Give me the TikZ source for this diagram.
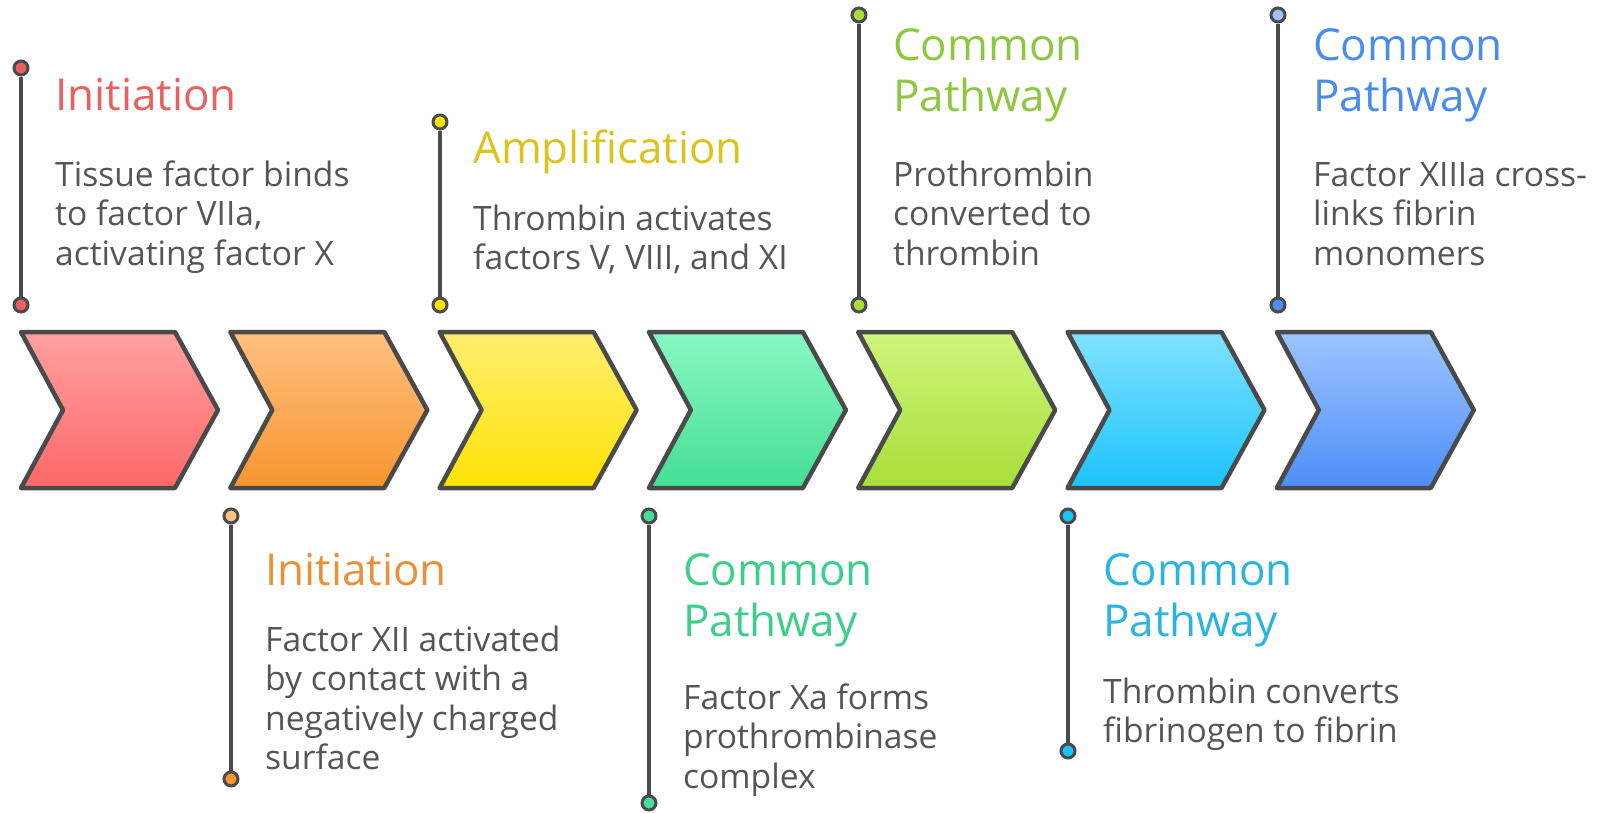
\documentclass[tikz,border=0pt]{standalone}
\usepackage{fontspec}
\setmainfont{Open Sans}
\definecolor{edge}{HTML}{4A4A4A}
\definecolor{bodygray}{HTML}{555555}
\definecolor{t1}{HTML}{EA6060}\definecolor{a1}{HTML}{FFA0A0}\definecolor{b1}{HTML}{FE6868}
\definecolor{t2}{HTML}{E8903A}\definecolor{a2}{HTML}{FFC080}\definecolor{b2}{HTML}{F7952E}
\definecolor{t3}{HTML}{DCC31C}\definecolor{a3}{HTML}{FFEE70}\definecolor{b3}{HTML}{FFE205}
\definecolor{t4}{HTML}{3DCF8A}\definecolor{a4}{HTML}{88F8C4}\definecolor{b4}{HTML}{45DE95}
\definecolor{t5}{HTML}{8DC63F}\definecolor{a5}{HTML}{D0F57A}\definecolor{b5}{HTML}{A7DE3A}
\definecolor{t6}{HTML}{29B5E0}\definecolor{a6}{HTML}{80E2FF}\definecolor{b6}{HTML}{1BC3FB}
\definecolor{t7}{HTML}{4A8CEB}\definecolor{a7}{HTML}{9DC4FF}\definecolor{b7}{HTML}{4D8EF8}
\newcommand\stk[2]{\vtop{\baselineskip=#1pt\lineskiplimit=-1000pt\lineskip=0pt #2}}
\tikzset{
  chev/.style={draw=edge, line width=4.5pt, line join=round},
  stem/.style={draw=edge, line width=3.5pt},
  dot/.style={circle, draw=edge, line width=3pt, minimum size=14pt, inner sep=0pt},
  ttl/.style={anchor=base west, inner sep=0pt, font=\fontsize{44}{51}\selectfont},
  body/.style={anchor=base west, inner sep=0pt, text=bodygray, font=\fontsize{33.6}{39.5}\selectfont},
}
\begin{document}
\begin{tikzpicture}[x=1pt,y=-1pt]
\useasboundingbox (0,0) rectangle (1598,812);
% chevrons
\foreach \i in {1,...,7}{
  \pgfmathsetmacro\L{21+209.3*(\i-1)}
  \path[chev, top color=a\i, bottom color=b\i] (\L,332) -- ++(154,0) -- ++(43,78) -- ++(-43,78) -- ++(-154,0) -- ++(42,-78) -- cycle;
}
% stems and dots
\node[dot, fill=t1] (d1a) at (21,68) {};   \node[dot, fill=t1] (d1b) at (21,305) {};
\node[dot, fill=a2] (d2a) at (231,516) {};  \node[dot, fill=b2] (d2b) at (231,779) {};
\node[dot, fill=b3] (d3a) at (440,122) {};  \node[dot, fill=b3] (d3b) at (440,305) {};
\node[dot, fill=b4] (d4a) at (649,516) {};  \node[dot, fill=b4] (d4b) at (649,803) {};
\node[dot, fill=b5] (d5a) at (859,15) {};   \node[dot, fill=b5] (d5b) at (859,305) {};
\node[dot, fill=b6] (d6a) at (1068,516) {}; \node[dot, fill=b6] (d6b) at (1068,751) {};
\node[dot, fill=a7] (d7a) at (1278,15) {};  \node[dot, fill=b7] (d7b) at (1278,305) {};
\foreach \k in {1,...,7}{ \draw[stem] (d\k a) -- (d\k b); }
% texts
\node[ttl, text=t1] (h1) at (55,110) {Initiation};
\node[body] (p1) at (55,186) {\stk{39.5}{\hbox{Tissue factor binds}\hbox{to factor VIIa,}\hbox{activating factor X}}};
\node[ttl, text=t2] (h2) at (265,585) {Initiation};
\node[body] (p2) at (265,651) {\stk{39.5}{\hbox{Factor XII activated}\hbox{by contact with a}\hbox{negatively charged}\hbox{surface}}};
\node[ttl, text=t3] (h3) at (473,163) {Amplification};
\node[body] (p3) at (473,230) {\stk{39.5}{\hbox{Thrombin activates}\hbox{factors V, VIII, and XI}}};
\node[ttl, text=t4] (h4) at (683,585) {\stk{51}{\hbox{Common}\hbox{Pathway}}};
\node[body] (p4) at (683,709) {\stk{39.5}{\hbox{Factor Xa forms}\hbox{prothrombinase}\hbox{complex}}};
\node[ttl, text=t5] (h5) at (893,60) {\stk{51}{\hbox{Common}\hbox{Pathway}}};
\node[body] (p5) at (893,186) {\stk{39.5}{\hbox{Prothrombin}\hbox{converted to}\hbox{thrombin}}};
\node[ttl, text=t6] (h6) at (1103,585) {\stk{51}{\hbox{Common}\hbox{Pathway}}};
\node[body] (p6) at (1103,703) {\stk{39.5}{\hbox{Thrombin converts}\hbox{fibrinogen to fibrin}}};
\node[ttl, text=t7] (h7) at (1313,60) {\stk{51}{\hbox{Common}\hbox{Pathway}}};
\node[body] (p7) at (1313,186) {\stk{39.5}{\hbox{Factor XIIIa cross-}\hbox{links fibrin}\hbox{monomers}}};
\end{tikzpicture}
\end{document}
